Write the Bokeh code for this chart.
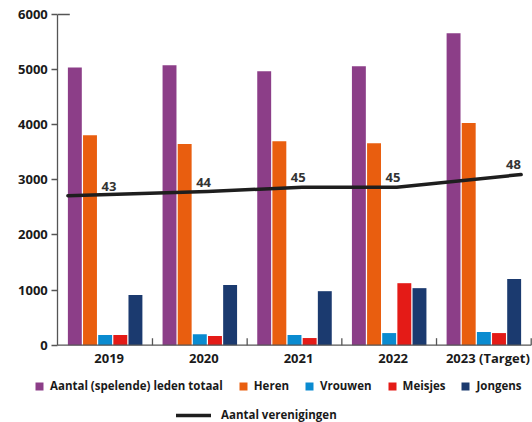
from bokeh.plotting import figure
from bokeh.models import Range1d, Legend, LegendItem, ColumnDataSource
from bokeh.transform import dodge
from bokeh.core.properties import value
from bokeh.embed import file_html
from bokeh.resources import INLINE

# ---- data ----
years = ["2019", "2020", "2021", "2022", "2023 (Target)"]
totaal = [5040, 5080, 4970, 5060, 5660]
heren = [3810, 3650, 3700, 3665, 4030]
vrouwen = [185, 200, 185, 220, 240]
meisjes = [185, 165, 130, 1125, 220]
jongens = [910, 1090, 980, 1035, 1200]
verenigingen = [43, 44, 45, 45, 48]
y_ticks = [0, 1000, 2000, 3000, 4000, 5000, 6000]

series_labels = ["Aantal (spelende) leden totaal", "Heren", "Vrouwen", "Meisjes", "Jongens"]
line_label = "Aantal verenigingen"

FONT = "Open Sans"
colors = ["#8C3E88", "#E95E0F", "#0A8BD0", "#E41B17", "#1B3A6F"]
LINE_COLOR = "#1E1E1E"
AX = "#555555"

n = len(years)
xpos = [i + 0.5 for i in range(n)]   # category centres on a numeric scale

# frame covers the whole canvas; the y axis is pinned at x = 0
p = figure(x_range=Range1d(-0.6052, 5.0137), y_range=Range1d(-1402.5, 6254),
           width=532, height=422, output_backend="svg", toolbar_location=None,
           x_axis_location=None,
           min_border_left=0, min_border_right=0, min_border_top=0, min_border_bottom=0)
p.outline_line_color = None
p.grid.visible = False
p.background_fill_color = "white"
p.extra_y_ranges = {"clubs": Range1d(-10.21, 88.84)}

src = ColumnDataSource(dict(x=xpos, totaal=totaal, heren=heren, vrouwen=vrouwen,
                            meisjes=meisjes, jongens=jongens))
keys = ["totaal", "heren", "vrouwen", "meisjes", "jongens"]
pitch = 0.16
bw = 0.147
bar_renderers = []
for i, (k, c) in enumerate(zip(keys, colors)):
    r = p.vbar(x=dodge("x", (i - 2) * pitch), top=k, width=bw,
               source=src, fill_color=c, line_color=None)
    bar_renderers.append(r)

# line positions
line_x = []
for i, c in enumerate(xpos):
    if i == 0:
        line_x.append(c - 2 * pitch - bw / 2)
    elif i == n - 1:
        line_x.append(c + 2 * pitch + bw / 2)
    else:
        line_x.append(c + pitch / 2)
lr = p.line(x=line_x, y=verenigingen, y_range_name="clubs", line_width=3.5,
            line_color=LINE_COLOR, line_cap="round", line_join="round")

label_x = [c + pitch / 4 for c in xpos[:-1]] + [line_x[-1] - 0.08]
p.text(x=label_x, y=verenigingen, text=[str(v) for v in verenigingen], y_range_name="clubs",
       text_align="center", text_baseline="middle", y_offset=-9.5,
       text_font=value(FONT), text_font_style="bold", text_font_size="13px", text_color="#333333")

# x baseline, boundary ticks and category labels
p.segment(x0=[0], x1=[n], y0=[0], y1=[0], line_color=AX, line_width=1.3)
tick_len = 6000 * 7 / 330
bx = [i + 1 for i in range(n)]
p.segment(x0=bx, x1=bx, y0=[0] * n, y1=[tick_len] * n, line_color=AX, line_width=1.3)
p.segment(x0=[0], x1=[12 / 94.7], y0=[y_ticks[-1]], y1=[y_ticks[-1]], line_color=AX, line_width=1.5)
p.text(x=xpos, y=[0] * n, text=years, text_align="center", text_baseline="middle",
       x_offset=4, y_offset=13, text_font=value(FONT), text_font_style="bold",
       text_font_size="13px", text_color="#1a1a1a")

# y axis pinned at x = 0
p.yaxis.fixed_location = 0
p.yaxis.ticker = y_ticks
p.yaxis.bounds = (0, 6000)
p.yaxis.axis_line_color = AX
p.yaxis.axis_line_width = 1.3
p.yaxis.major_tick_line_color = AX
p.yaxis.major_tick_line_width = 1.3
p.yaxis.major_tick_out = 6
p.yaxis.major_tick_in = 0
p.yaxis.minor_tick_out = 0
p.yaxis.minor_tick_in = 0
p.yaxis.major_label_standoff = 4
p.yaxis.major_label_text_font = FONT
p.yaxis.major_label_text_font_style = "bold"
p.yaxis.major_label_text_font_size = "13px"
p.yaxis.major_label_text_color = "#1a1a1a"

common = dict(orientation="horizontal", padding=0, margin=0, border_line_color=None,
              background_fill_alpha=0, label_text_font=FONT, label_text_font_style="bold",
              label_text_font_size="11.5px", label_height=14, label_text_color="#1a1a1a")
leg1 = Legend(items=[LegendItem(label=l, renderers=[r]) for l, r in zip(series_labels, bar_renderers)],
              location=(34, 29), glyph_width=10, glyph_height=10, label_standoff=6,
              spacing=15, **common)
leg2 = Legend(items=[LegendItem(label=line_label, renderers=[lr])],
              location=(176, 0), glyph_width=35, glyph_height=10, label_standoff=10,
              spacing=0, **common)
p.add_layout(leg1)
p.add_layout(leg2)

open("out.html", "w").write(file_html(p, INLINE))
